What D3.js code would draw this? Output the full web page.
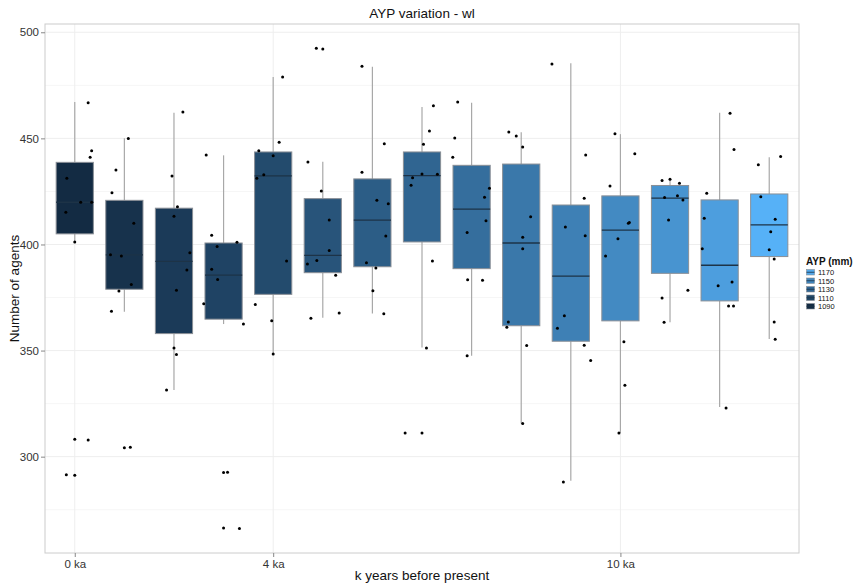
<!DOCTYPE html>
<html>
<head>
<meta charset="utf-8">
<script src="https://cdn.jsdelivr.net/npm/d3@7"></script>
<style>
  body { margin: 0; background: #fff; }
  text { font-family: "Liberation Sans", Arial, Helvetica, sans-serif; }
</style>
</head>
<body>
<div id="graph"></div>
<script>
// time steps (only some of them carry a label on the x axis)
var periods = ["s1", "s2", "s3", "s4", "s5", "s6", "s7", "s8", "s9", "s10", "s11", "s12", "s13", "s14", "s15"];
var tickIndex = [0, 4, 11];
var tickLabels = ["0 ka", "4 ka", "10 ka"];

// AYP (mm) per box, used for the fill
var ayp = [1090, 1095, 1101, 1107, 1112, 1118, 1124, 1129, 1135, 1141, 1146, 1152, 1158, 1164, 1175];
var legendBreaks = [1170, 1150, 1130, 1110, 1090];

// box statistics
var whiskerLow  = [401.2, 368.3, 331.4, 362.5, 348.2, 365.5, 367.5, 351.4, 347.6, 315.6, 288.6, 311.2, 363.4, 323.4, 355.5];
var q1          = [405.0, 378.9, 358.0, 364.8, 376.5, 386.7, 389.5, 401.2, 388.6, 361.7, 354.4, 364.0, 386.4, 373.4, 394.3];
var median      = [419.9, 395.1, 392.0, 385.6, 432.3, 394.9, 411.5, 432.4, 416.7, 400.7, 385.1, 406.8, 421.8, 390.2, 409.2];
var q3          = [438.7, 420.8, 417.1, 400.7, 443.6, 421.6, 430.9, 443.6, 437.3, 437.9, 418.6, 422.9, 427.8, 421.0, 423.8];
var whiskerHigh = [467.2, 450.0, 462.1, 442.0, 478.9, 439.0, 483.8, 464.8, 466.8, 452.9, 485.4, 452.0, 430.7, 462.1, 441.1];

// runs per box: [number of agents, jitter (fraction of one step)]
var samples = [
  [[466.8, .27], [444.2, .34], [441.1, .31], [431.2, -.16], [419.9, .12], [419.9, .34], [415.2, -.18], [401.2, 0], [308.2, 0], [307.9, .27], [291.5, -.17], [291.2, 0]],
  [[449.9, .08], [435.1, -.17], [424.4, -.25], [410.0, .19], [395.2, -.28], [394.6, -.06], [381.1, .14], [378.1, -.11], [368.5, -.26], [304.2, 0], [304.4, .12]],
  [[462.4, .18], [432.3, -.04], [417.8, .07], [413.3, 0], [396.1, .32], [388.0, .26], [378.4, .05], [351.2, 0], [348.1, .05], [331.4, -.15]],
  [[442.2, -.35], [404.3, -.24], [401.0, .27], [399.1, -.13], [388.3, -.24], [383.5, -.12], [372.1, -.4], [362.5, .4], [292.5, 0], [292.6, .08], [266.4, 0], [266.1, .32]],
  [[478.9, .19], [448.2, .12], [444.2, -.29], [441.8, 0], [432.9, -.19], [431.2, -.33], [392.2, .27], [371.7, -.36], [364.0, -.03], [348.4, 0]],
  [[492.5, -.13], [492.1, 0], [438.9, -.3], [425.2, -.03], [411.5, .13], [397.1, .13], [392.4, -.12], [390.8, -.31], [385.5, .26], [367.7, .33], [365.2, -.24]],
  [[484.0, -.21], [447.5, .24], [434.0, -.21], [420.8, .09], [419.2, .32], [404.0, .27], [391.4, -.12], [388.9, .07], [378.2, .01], [367.4, .23]],
  [[465.4, .23], [453.5, .15], [447.2, .03], [433.1, .31], [433.2, 0], [431.5, -.19], [427.9, -.22], [392.2, .21], [351.2, .09], [311.2, -.34], [311.2, 0]],
  [[467.2, -.28], [450.2, -.34], [441.1, -.38], [426.5, .36], [422.2, .26], [411.2, .29], [405.6, -.09], [383.4, -.08], [383.1, .22], [347.5, -.09]],
  [[453.0, -.25], [451.1, -.1], [445.9, .03], [413.1, .19], [403.4, .03], [398.0, .03], [363.5, -.26], [361.0, -.29], [352.4, .11], [315.6, .03]],
  [[485.1, -.38], [442.2, .3], [421.8, .27], [408.2, -.11], [404.1, .29], [366.4, -.13], [360.5, -.27], [352.5, .27], [345.3, .4], [288.1, -.15]],
  [[452.2, -.11], [442.8, .29], [427.6, -.21], [410.4, .18], [410.0, .16], [402.7, -.05], [394.6, -.3], [354.2, .07], [333.6, .09], [311.2, -.03]],
  [[430.1, -.16], [430.7, 0], [428.8, .19], [422.1, -.11], [423.0, .15], [421.0, .26], [411.5, -.03], [378.4, .36], [374.8, -.16], [363.4, -.12]],
  [[461.8, .21], [444.8, .29], [424.1, -.26], [412.3, -.31], [398.0, -.35], [382.3, .25], [380.6, -.03], [371.0, .18], [371.0, .28], [322.9, .13]],
  [[441.4, .23], [437.6, -.22], [422.5, -.17], [411.9, .12], [406.0, .03], [397.5, 0], [393.2, .1], [363.5, .1], [355.3, .12]]
];

var width = 866, height = 584;
var panel = { left: 45, right: 799, top: 24, bottom: 553 };

var svg = d3.select("#graph").append("svg")
  .attr("width", width).attr("height", height);

svg.append("rect").attr("width", width).attr("height", height).attr("fill", "#fff");

var xScale = d3.scalePoint()
  .domain(periods)
  .range([panel.left, panel.right])
  .padding(0.6);
var step = xScale.step();
var boxWidth = step * 0.75;

var yScale = d3.scaleLinear()
  .domain([254.6, 503.9])
  .range([panel.bottom, panel.top]);

var fillScale = d3.scaleLinear()
  .domain(d3.extent(ayp))
  .range(["#132B43", "#56B1F7"])
  .interpolate(d3.interpolateLab);

// grid lines
var grid = svg.append("g");
grid.selectAll(".minor")
  .data([275, 325, 375, 425, 475])
  .enter().append("line")
  .attr("x1", panel.left).attr("x2", panel.right)
  .attr("y1", d => yScale(d)).attr("y2", d => yScale(d))
  .attr("stroke", "#f6f6f6");
grid.selectAll(".major")
  .data([300, 350, 400, 450, 500])
  .enter().append("line")
  .attr("x1", panel.left).attr("x2", panel.right)
  .attr("y1", d => yScale(d)).attr("y2", d => yScale(d))
  .attr("stroke", "#eeeeee");
grid.selectAll(".vmajor")
  .data(tickIndex)
  .enter().append("line")
  .attr("x1", d => xScale(periods[d])).attr("x2", d => xScale(periods[d]))
  .attr("y1", panel.top).attr("y2", panel.bottom)
  .attr("stroke", "#eeeeee");

// boxplots
var boxes = svg.selectAll(".box")
  .data(periods)
  .enter().append("g");

boxes.append("line")
  .attr("x1", d => xScale(d)).attr("x2", d => xScale(d))
  .attr("y1", (d, i) => yScale(whiskerHigh[i])).attr("y2", (d, i) => yScale(q3[i]))
  .attr("stroke", "#a8a8a8").attr("stroke-width", 1.2);
boxes.append("line")
  .attr("x1", d => xScale(d)).attr("x2", d => xScale(d))
  .attr("y1", (d, i) => yScale(q1[i])).attr("y2", (d, i) => yScale(whiskerLow[i]))
  .attr("stroke", "#a8a8a8").attr("stroke-width", 1.2);
boxes.append("rect")
  .attr("x", d => xScale(d) - boxWidth / 2)
  .attr("width", boxWidth)
  .attr("y", (d, i) => yScale(q3[i]))
  .attr("height", (d, i) => yScale(q1[i]) - yScale(q3[i]))
  .attr("fill", (d, i) => fillScale(ayp[i]))
  .attr("stroke", "#8a8f96").attr("stroke-width", 1);
boxes.append("line")
  .attr("x1", d => xScale(d) - boxWidth / 2).attr("x2", d => xScale(d) + boxWidth / 2)
  .attr("y1", (d, i) => yScale(median[i])).attr("y2", (d, i) => yScale(median[i]))
  .attr("stroke", "#1d3347").attr("stroke-width", 1.3);

// jittered points
boxes.selectAll("circle")
  .data((d, i) => samples[i].map(s => ({ period: d, value: s[0], jitter: s[1] })))
  .enter().append("circle")
  .attr("cx", d => xScale(d.period) + d.jitter * step)
  .attr("cy", d => yScale(d.value))
  .attr("r", 1.5)
  .attr("fill", "#000");

// panel border
svg.append("rect")
  .attr("x", panel.left).attr("y", panel.top)
  .attr("width", panel.right - panel.left).attr("height", panel.bottom - panel.top)
  .attr("fill", "none").attr("stroke", "#cccccc");

// axes
var yAxis = svg.append("g")
  .attr("transform", "translate(" + panel.left + ",0)")
  .call(d3.axisLeft(yScale).tickValues([300, 350, 400, 450, 500]).tickSize(4).tickPadding(2));
var xAxis = svg.append("g")
  .attr("transform", "translate(0," + panel.bottom + ")")
  .call(d3.axisBottom(xScale)
    .tickValues(tickIndex.map(i => periods[i]))
    .tickFormat((d, i) => tickLabels[i])
    .tickSize(4).tickPadding(3));
[xAxis, yAxis].forEach(function (ax) {
  ax.select(".domain").remove();
  ax.selectAll("line").attr("stroke", "#888");
  ax.selectAll("text").attr("fill", "#333").style("font-size", "11.5px");
});

// titles
svg.append("text")
  .attr("x", (panel.left + panel.right) / 2).attr("y", 18)
  .attr("text-anchor", "middle")
  .style("font-size", "13.5px").attr("fill", "#111")
  .text("AYP variation - wl");
svg.append("text")
  .attr("x", (panel.left + panel.right) / 2).attr("y", 580)
  .attr("text-anchor", "middle")
  .style("font-size", "13.5px").attr("fill", "#111")
  .text("k years before present");
svg.append("text")
  .attr("transform", "translate(19," + ((panel.top + panel.bottom) / 2) + ") rotate(-90)")
  .attr("text-anchor", "middle")
  .style("font-size", "13.5px").attr("fill", "#111")
  .text("Number of agents");

// legend
var legend = svg.append("g").attr("transform", "translate(806,257)");
legend.append("text")
  .attr("x", 0).attr("y", 8)
  .style("font-size", "10px").style("font-weight", "bold").attr("fill", "#111")
  .text("AYP (mm)");
var keys = legend.selectAll(".key")
  .data(legendBreaks)
  .enter().append("g")
  .attr("transform", (d, i) => "translate(0," + (12 + i * 8.5) + ")");
keys.append("rect")
  .attr("x", 0.5).attr("y", 0.5).attr("width", 8).attr("height", 5.5)
  .attr("fill", d => fillScale(d))
  .attr("stroke", "#8a8f96").attr("stroke-width", 0.6);
keys.append("line")
  .attr("x1", 0.5).attr("x2", 8.5).attr("y1", 3.25).attr("y2", 3.25)
  .attr("stroke", "#1d3347").attr("stroke-width", 0.8);
keys.append("text")
  .attr("x", 12).attr("y", 6.3)
  .style("font-size", "7.5px").attr("fill", "#111")
  .text(d => d);
</script>
</body>
</html>
